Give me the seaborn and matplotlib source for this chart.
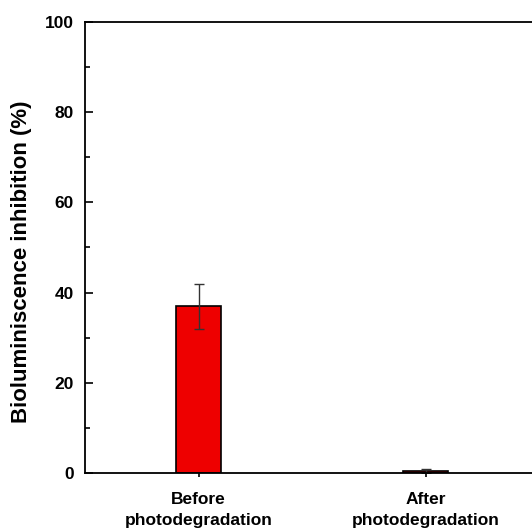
import matplotlib
matplotlib.use("Agg")
import matplotlib.pyplot as plt
from matplotlib.ticker import MultipleLocator
import seaborn as sns
import pandas as pd

# Bioluminescence inhibition before and after photodegradation
conditions = ["Before\nphotodegradation", "After\nphotodegradation"]
inhibition = [37.0, 0.5]
inhibition_sd = [5.0, 0.4]

sns.set_style("ticks")
plt.rcParams["font.family"] = ["Liberation Sans", "DejaVu Sans"]
plt.rcParams["font.weight"] = "bold"
plt.rcParams["text.color"] = "black"
plt.rcParams["axes.labelcolor"] = "black"
plt.rcParams["xtick.color"] = "black"
plt.rcParams["ytick.color"] = "black"

df = pd.DataFrame({"condition": conditions, "inhibition": inhibition})

fig = plt.figure(figsize=(5.32, 5.28), dpi=100)
ax = fig.add_axes([0.1598, 0.1042, 0.8534, 0.8542])

sns.barplot(data=df, x="condition", y="inhibition", color="#ee0000",
            width=0.2, edgecolor="black", linewidth=1.2, errorbar=None,
            saturation=1, ax=ax)

centers = [p.get_x() + p.get_width() / 2 for p in ax.patches]
ax.errorbar(centers, inhibition, yerr=inhibition_sd, fmt="none",
            ecolor="#333333", elinewidth=1.0, capsize=3.5, capthick=1.0)

ax.set_xlim(-0.5, 1.5)
ax.set_ylim(0, 100)
ax.yaxis.set_major_locator(MultipleLocator(20))
ax.yaxis.set_minor_locator(MultipleLocator(10))

ax.set_xlabel("")
ax.set_ylabel("Bioluminiscence inhibition (%)", fontsize=16, fontweight="bold")
ax.yaxis.set_label_coords(-0.117, 0.469)

for side in ["top", "right", "left", "bottom"]:
    ax.spines[side].set_visible(True)
    ax.spines[side].set_linewidth(1.3)
    ax.spines[side].set_color("black")

ax.tick_params(axis="y", which="major", direction="in", length=6, width=1.2,
               labelsize=12.5, pad=8)
ax.tick_params(axis="y", which="minor", direction="in", length=3.5, width=1.2)
ax.tick_params(axis="x", which="major", direction="out", length=3, width=1.2,
               labelsize=12.5, pad=11)
for lbl in ax.get_xticklabels() + ax.get_yticklabels():
    lbl.set_fontweight("bold")
for lbl in ax.get_xticklabels():
    lbl.set_linespacing(1.45)

fig.savefig("out.png", dpi=100)
